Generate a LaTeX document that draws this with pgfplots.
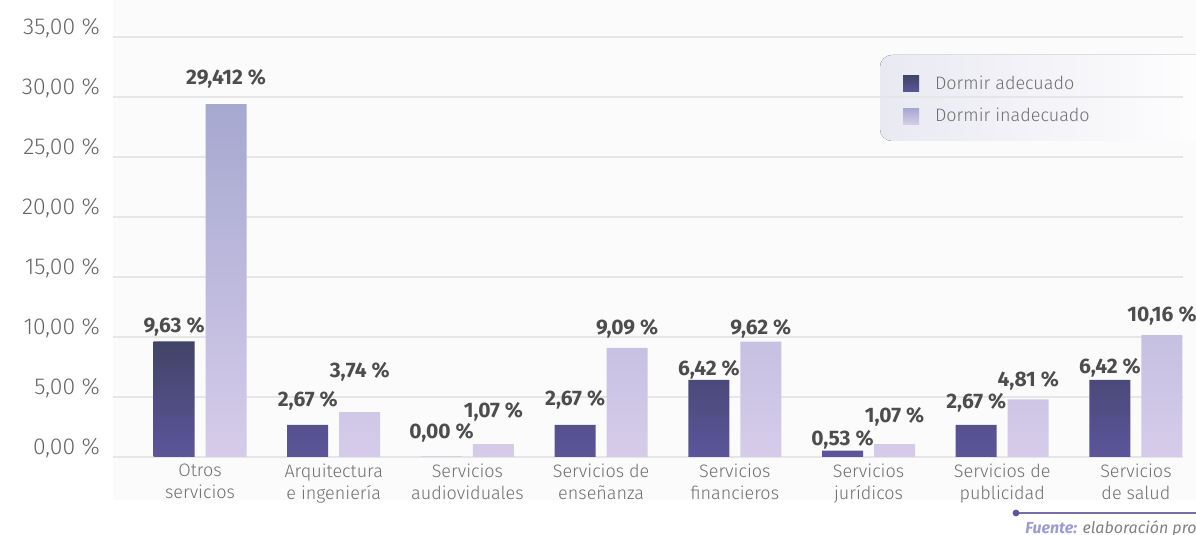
\documentclass[border=0pt]{standalone}
\usepackage{pgfplots}
\pgfplotsset{compat=1.18}
\usepackage{fontspec}
\setmainfont{Fira Sans}
\newfontfamily\lightfont{Fira Sans Light}

\definecolor{darkTop}{HTML}{414467}
\definecolor{darkBot}{HTML}{5C559B}
\definecolor{lightTop}{HTML}{A6A8D0}
\definecolor{lightBot}{HTML}{D6CCEA}
\definecolor{gridc}{HTML}{E6E6E8}
\definecolor{tickc}{HTML}{666666}
\definecolor{catc}{HTML}{707070}
\definecolor{valc}{HTML}{4D4D4D}
\definecolor{legbg}{HTML}{E9E9F2}
\definecolor{panel}{HTML}{FBFBFC}
\definecolor{fuentec}{HTML}{9C9CD2}

% x = category, y = value, lab = printed label, dy = label baseline above bar (pt)
\pgfplotstableread{
x y lab dy
0 9.63 9,63~\% 4.7
1 2.67 2,67~\% 9
2 0.00 0,00~\% 9
3 2.67 2,67~\% 9.5
4 6.42 6,42~\% 2.2
5 0.53 0,53~\% 2.8
6 2.67 2,67~\% 8
7 6.42 6,42~\% 3
}\adecuado
\pgfplotstableread{
x y lab dy
0 29.412 29,412~\% 10
1 3.74 3,74~\% 17.5
2 1.07 1,07~\% 13.5
3 9.09 9,09~\% 6.5
4 9.62 9,62~\% 3.3
5 1.07 1,07~\% 11
6 4.81 4,81~\% 6.5
7 10.16 10,16~\% 7
}\inadecuado

\begin{document}
\begin{tikzpicture}[x=1pt,y=1pt]
\path[use as bounding box] (0,0) rectangle (598,267.5);
% faint panel behind the chart
\fill[panel] (56.5,17.5) rectangle (598,267.5);
% legend box
\fill[left color=legbg, right color=white, rounded corners=6pt] (440,197) rectangle (610,240);

\begin{axis}[
    at={(56.5pt,39pt)}, anchor=south west,
    scale only axis, width=535pt, height=210pt,
    xmin=-0.651, xmax=7.352,
    ymin=0, ymax=35,
    ytick={0,5,...,35},
    xtick={0,...,7},
    xticklabels={{Otros\\servicios},{Arquitectura\\e ingeniería},{Servicios\\audioviduales},{Servicios de\\enseñanza},{Servicios\\financieros},{Servicios\\jurídicos},{Servicios de\\publicidad},{Servicios\\de salud}},
    axis line style={draw=none},
    tick style={draw=none},
    ymajorgrids, grid style={gridc, line width=1pt},
    /pgf/number format/assume math mode=true,
    yticklabel={\pgfmathprintnumber[fixed,fixed zerofill,precision=2,use comma]{\tick}~\%},
    yticklabel style={font=\lightfont\fontsize{11.5}{12}\selectfont, text=tickc, anchor=east, xshift=-3pt, yshift=4.5pt},
    xticklabel style={font=\lightfont\fontsize{9}{11}\selectfont, text=catc, align=center, anchor=north, yshift=4.5pt},
    ybar=5.5pt, bar width=20.5pt,
    point meta=explicit symbolic,
    nodes near coords,
    nodes near coords style={font=\bfseries\fontsize{10.5}{11}\selectfont, text=valc, anchor=base, inner sep=0pt},
    visualization depends on={\thisrow{dy} \as \labdy},
    legend image code/.code={\path[#1, draw=none] (0pt,-4pt) rectangle (8pt,4pt);},
    legend style={at={(0.738,0.914)}, anchor=north west, draw=none, fill=none,
        font=\lightfont\fontsize{9}{11}\selectfont, text=catc, row sep=6pt, inner sep=0pt,
        nodes={inner sep=1pt, text=catc}},
    legend cell align=left,
]
\addplot[draw=none, top color=darkTop, bottom color=darkBot,
    nodes near coords style={yshift=\labdy pt}]
    table[x=x, y=y, meta=lab] {\adecuado};
\addlegendentry{\hspace{7pt}Dormir adecuado}
\addplot[draw=none, top color=lightTop, bottom color=lightBot,
    nodes near coords style={yshift=\labdy pt}]
    table[x=x, y=y, meta=lab] {\inadecuado};
\addlegendentry{\hspace{7pt}Dormir inadecuado}
\end{axis}

% source note
\draw[darkBot!85, line width=0.8pt] (508,11) -- (600,11);
\fill[darkBot] (508,11) circle (1.7);
\node[anchor=base west, inner sep=0pt, font=\fontsize{8}{9}\selectfont\itshape] at (512.5,0.8)
    {\textcolor{fuentec}{\bfseries Fuente:} \textcolor{gray}{elaboración propia}};
\end{tikzpicture}
\end{document}
